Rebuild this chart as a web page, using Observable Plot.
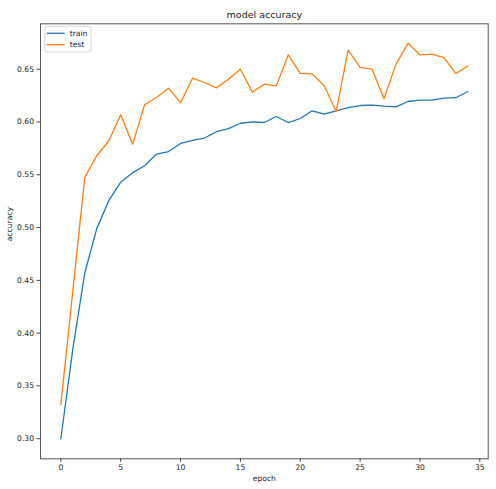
<!DOCTYPE html>
<html>
<head>
<meta charset="utf-8">
<script src="https://cdn.jsdelivr.net/npm/d3@7"></script>
<script src="https://cdn.jsdelivr.net/npm/@observablehq/plot@0.6"></script>
<style>
  html, body { margin: 0; padding: 0; background: white; }
  #chart { width: 496px; height: 489px; position: relative; }
</style>
</head>
<body>
<div id="chart"></div>
<script>
const epochs = [0,1,2,3,4,5,6,7,8,9,10,11,12,13,14,15,16,17,18,19,20,21,22,23,24,25,26,27,28,29,30,31,32,33,34];
const trainAcc = [0.300,0.385,0.457,0.499,0.5255,0.543,0.552,0.5586,0.5696,0.572,0.5797,0.5825,0.5848,0.5908,0.5938,0.5988,0.6002,0.5995,0.6052,0.5995,0.6033,0.6106,0.6075,0.6106,0.6137,0.6156,0.616,0.615,0.6144,0.6194,0.6207,0.6207,0.6226,0.623,0.6289];
const testAcc = [0.3325,0.440,0.5475,0.568,0.582,0.6068,0.579,0.6163,0.6232,0.632,0.6183,0.6415,0.6374,0.6323,0.6405,0.650,0.6283,0.6358,0.6342,0.6636,0.646,0.6456,0.6343,0.610,0.668,0.6517,0.650,0.622,0.6548,0.6745,0.6636,0.6643,0.661,0.6459,0.653];
const xTicks = [0,5,10,15,20,25,30,35];
const yTicks = [0.30,0.35,0.40,0.45,0.50,0.55,0.60,0.65];
const seriesNames = ["train","test"];
const seriesColors = ["#1f77b4","#ff7f0e"];
const titleText = "model accuracy";
const xLabel = "epoch";
const yLabel = "accuracy";

const rows = [];
epochs.forEach((e, i) => {
  rows.push({epoch: e, acc: trainAcc[i], series: seriesNames[0]});
  rows.push({epoch: e, acc: testAcc[i], series: seriesNames[1]});
});

const chart = Plot.plot({
  width: 496,
  height: 489,
  marginTop: 23.3,
  marginLeft: 40,
  marginRight: 8.3,
  marginBottom: 30.7,
  style: {fontFamily: "DejaVu Sans", fontSize: "7.6px", background: "white", color: "#222"},
  x: {domain: [-1.7, 35.7]},
  y: {domain: [0.281, 0.693]},
  color: {domain: seriesNames, range: seriesColors},
  marks: [
    Plot.frame({stroke: "#555", strokeWidth: 1}),
    Plot.axisX({ticks: xTicks, tickSize: 3.5, tickPadding: 2, tickFormat: d => String(d), label: null, stroke: "#444"}),
    Plot.axisY({ticks: yTicks, tickSize: 3.5, tickPadding: 3, tickFormat: d3.format(".2f"), label: null, stroke: "#444"}),
    Plot.line(rows, {x: "epoch", y: "acc", z: "series", stroke: "series", strokeWidth: 1.3}),
    Plot.text([titleText], {frameAnchor: "top", lineAnchor: "middle", dy: -9, fontSize: 9.5, fill: "#222"}),
    Plot.text([xLabel], {frameAnchor: "bottom", lineAnchor: "middle", dy: 19.5, fontSize: 7.6, fill: "#222"}),
    Plot.text([yLabel], {frameAnchor: "left", dx: -30.5, rotate: -90, fontSize: 7.6, fill: "#222"})
  ]
});

// legend (upper-left, inside the axes)
const svg = d3.select(chart);
const lg = svg.append("g").attr("font-family", "DejaVu Sans").attr("font-size", "7.6px").attr("text-anchor", "start");
lg.append("rect").attr("x", 44.7).attr("y", 26.3).attr("width", 46.3).attr("height", 25.6)
  .attr("rx", 2).attr("fill", "white").attr("fill-opacity", 0.8).attr("stroke", "#cccccc").attr("stroke-width", 0.8);
seriesNames.forEach((name, i) => {
  const yy = 33.3 + i * 11.4;
  lg.append("line").attr("x1", 46.7).attr("x2", 64.7).attr("y1", yy).attr("y2", yy)
    .attr("stroke", seriesColors[i]).attr("stroke-width", 1.3);
  lg.append("text").attr("x", 69.7).attr("y", yy).attr("dy", "0.32em").attr("fill", "#222")
    .attr("text-anchor", "start").text(name);
});

document.getElementById("chart").appendChild(chart);
</script>
</body>
</html>
